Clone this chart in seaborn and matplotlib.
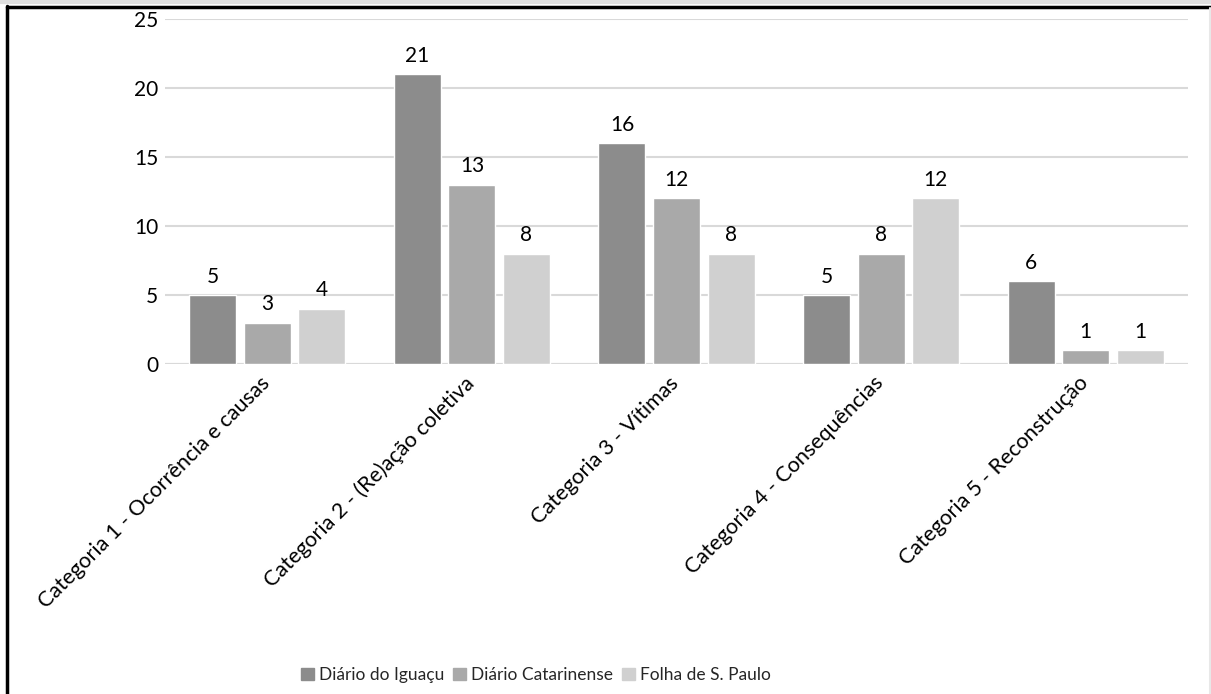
import matplotlib
matplotlib.use("Agg")
import matplotlib.pyplot as plt
import seaborn as sns
import pandas as pd
from matplotlib.lines import Line2D
from matplotlib.transforms import ScaledTranslation

categories = ["Categoria 1 - Ocorrência e causas", "Categoria 2 - (Re)ação coletiva",
              "Categoria 3 - Vítimas", "Categoria 4 - Consequências", "Categoria 5 - Reconstrução"]
series_names = ["Diário do Iguaçu", "Diário Catarinense", "Folha de S. Paulo"]
diario_iguacu = [5, 21, 16, 5, 6]
diario_catarinense = [3, 13, 12, 8, 1]
folha_sp = [4, 8, 8, 12, 1]
colors = ["#8c8c8c", "#a9a9a9", "#d0d0d0"]

rows = []
for name, vals in zip(series_names, [diario_iguacu, diario_catarinense, folha_sp]):
    for c, v in zip(categories, vals):
        rows.append({"cat": c, "serie": name, "val": v})
df = pd.DataFrame(rows)

sns.set_theme(style="white")
plt.rcParams['font.family'] = ['Lato', 'DejaVu Sans']

fig = plt.figure(figsize=(12.11, 6.94), dpi=100)
W, H = 1211, 694
ax = fig.add_axes([165 / W, 1 - 364 / H, (1188 - 165) / W, (364 - 19) / H])

sns.barplot(data=df, x="cat", y="val", hue="serie", order=categories, hue_order=series_names,
            palette=colors, width=0.8, gap=0.14, saturation=1, ax=ax, legend=False)

ax.set_ylim(0, 25)
ax.set_yticks([0, 5, 10, 15, 20, 25])
ax.yaxis.grid(True, color="#d9d9d9", linewidth=1.5)
ax.set_axisbelow(True)
for s in ax.spines.values():
    s.set_visible(False)
ax.axhline(0, color="#d9d9d9", linewidth=1.5, zorder=0)
ax.set_xlabel("")
ax.set_ylabel("")
ax.tick_params(axis="y", labelsize=15, pad=5, length=0)
ax.tick_params(axis="x", labelsize=15.5, length=0, pad=0)
for lab in ax.get_xticklabels():
    lab.set_rotation(45)
    lab.set_ha("right")
    lab.set_va("center")
    lab.set_rotation_mode("anchor")
    lab.set_transform(lab.get_transform() + ScaledTranslation(-1 / 100, -16 / 100, fig.dpi_scale_trans))
for lab in ax.get_yticklabels() + ax.get_xticklabels():
    lab.set_color("#000000")

for cont in ax.containers:
    ax.bar_label(cont, labels=[f"{int(v)}" for v in cont.datavalues], padding=6, fontsize=15, color="#000000")

handles = [plt.Rectangle((0, 0), 1, 1, color=c) for c in colors]
fig.legend(handles, series_names, loc="center", bbox_to_anchor=(536 / W, 1 - 675 / H), ncol=3,
           frameon=False, fontsize=12.5, handlelength=0.75, handleheight=0.75, handletextpad=0.3,
           columnspacing=0.5)

# frame
fig.add_artist(Line2D([0, 1], [1 - 2 / H, 1 - 2 / H], color="#e0e0e0", linewidth=3, transform=fig.transFigure))
fig.add_artist(Line2D([7 / W, 1], [1 - 6.5 / H, 1 - 6.5 / H], color="black", linewidth=2.5, transform=fig.transFigure))
fig.add_artist(Line2D([7 / W, 7 / W], [0, 1 - 6 / H], color="black", linewidth=2.5, transform=fig.transFigure))
fig.add_artist(Line2D([1 - 1.5 / W, 1 - 1.5 / W], [0, 1 - 8 / H], color="#e8e8e8", linewidth=1.5, transform=fig.transFigure))

fig.savefig("out.png", dpi=100)
